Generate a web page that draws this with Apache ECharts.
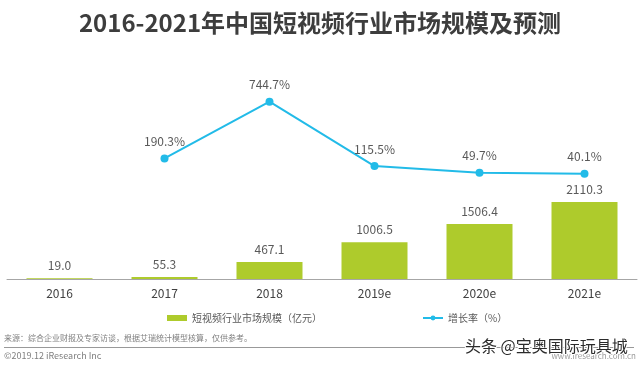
<!DOCTYPE html>
<html>
<head>
<meta charset="utf-8">
<script src="https://cdn.jsdelivr.net/npm/echarts@6/dist/echarts.min.js"></script>
<style>
html,body{margin:0;padding:0;background:#fff;}
#c{width:640px;height:369px;}
</style>
</head>
<body>
<div id="c"></div>
<script>
const categories = ['2016', '2017', '2018', '2019e', '2020e', '2021e'];
const marketSize = [19.0, 55.3, 467.1, 1006.5, 1506.4, 2110.3];
const growthRate = [null, 190.3, 744.7, 115.5, 49.7, 40.1];
const barName = '短视频行业市场规模（亿元）';
const lineName = '增长率（%）';
const titleText = '2016-2021年中国短视频行业市场规模及预测';
const sourceText = '来源：综合企业财报及专家访谈，根据艾瑞统计模型核算，仅供参考。';
const copyrightText = '©2019.12 iResearch Inc';
const siteText = 'www.iresearch.com.cn';
const watermarkText = '头条 @宝奥国际玩具城';

const FONT = '"Noto Sans CJK SC", "Noto Sans", sans-serif';
const chart = echarts.init(document.getElementById('c'), null, {renderer: 'canvas'});
chart.setOption({
  backgroundColor: '#ffffff',
  textStyle: {fontFamily: FONT},
  animation: false,
  title: {
    text: titleText,
    left: 'center',
    top: 6,
    textStyle: {fontSize: 24, fontWeight: 'bold', color: '#3d3d3d', fontFamily: FONT}
  },
  legend: {
    left: 162,
    top: 308,
    itemGap: 100,
    itemWidth: 20,
    itemHeight: 6,
    textStyle: {fontSize: 10, color: '#595959', fontFamily: FONT},
    data: [
      {name: barName, icon: 'rect'},
      {name: lineName}
    ]
  },
  grid: {left: 7, right: 3, top: 60, bottom: 90},
  xAxis: {
    type: 'category',
    data: categories,
    axisLine: {lineStyle: {color: '#a6a6a6', width: 1}},
    axisTick: {show: false},
    axisLabel: {fontSize: 12, color: '#404040', margin: 8, fontFamily: FONT}
  },
  yAxis: [
    {type: 'value', min: 0, max: 6000, show: false, splitLine: {show: false}},
    {type: 'value', min: -990, max: 1153, show: false, splitLine: {show: false}}
  ],
  series: [
    {
      name: barName,
      type: 'bar',
      data: marketSize,
      barWidth: 66,
      itemStyle: {color: '#aecb2c'},
      label: {
        show: true, position: 'top', distance: 7,
        fontSize: 12, color: '#595959', fontFamily: FONT,
        formatter: p => p.value.toFixed(1)
      }
    },
    {
      name: lineName,
      type: 'line',
      yAxisIndex: 1,
      data: growthRate,
      symbol: 'circle',
      symbolSize: 8,
      lineStyle: {color: '#22bbe8', width: 2},
      itemStyle: {color: '#22bbe8'},
      label: {
        show: true, position: 'top', distance: 7,
        fontSize: 12, color: '#595959', fontFamily: FONT,
        formatter: p => p.value.toFixed(1) + '%'
      }
    }
  ],
  graphic: [
    {type: 'text', left: 4, top: 334, style: {text: sourceText, fontSize: 8, fill: '#7f7f7f', fontFamily: FONT}},
    {type: 'line', shape: {x1: 4, y1: 347.5, x2: 634, y2: 347.5}, style: {stroke: '#999999', lineWidth: 1}},
    {type: 'text', left: 4, top: 351, style: {text: copyrightText, fontSize: 9, fill: '#7f7f7f', fontFamily: FONT}},
    {type: 'text', right: 4, top: 352, style: {text: siteText, fontSize: 8, fill: '#9a9a9a', fontFamily: FONT}},
    {type: 'text', left: 464, top: 337, z: 100, style: {text: watermarkText, fontSize: 16, fill: '#2b2b2b', stroke: '#ffffff', lineWidth: 2, fontFamily: FONT}}
  ]
});
</script>
</body>
</html>
